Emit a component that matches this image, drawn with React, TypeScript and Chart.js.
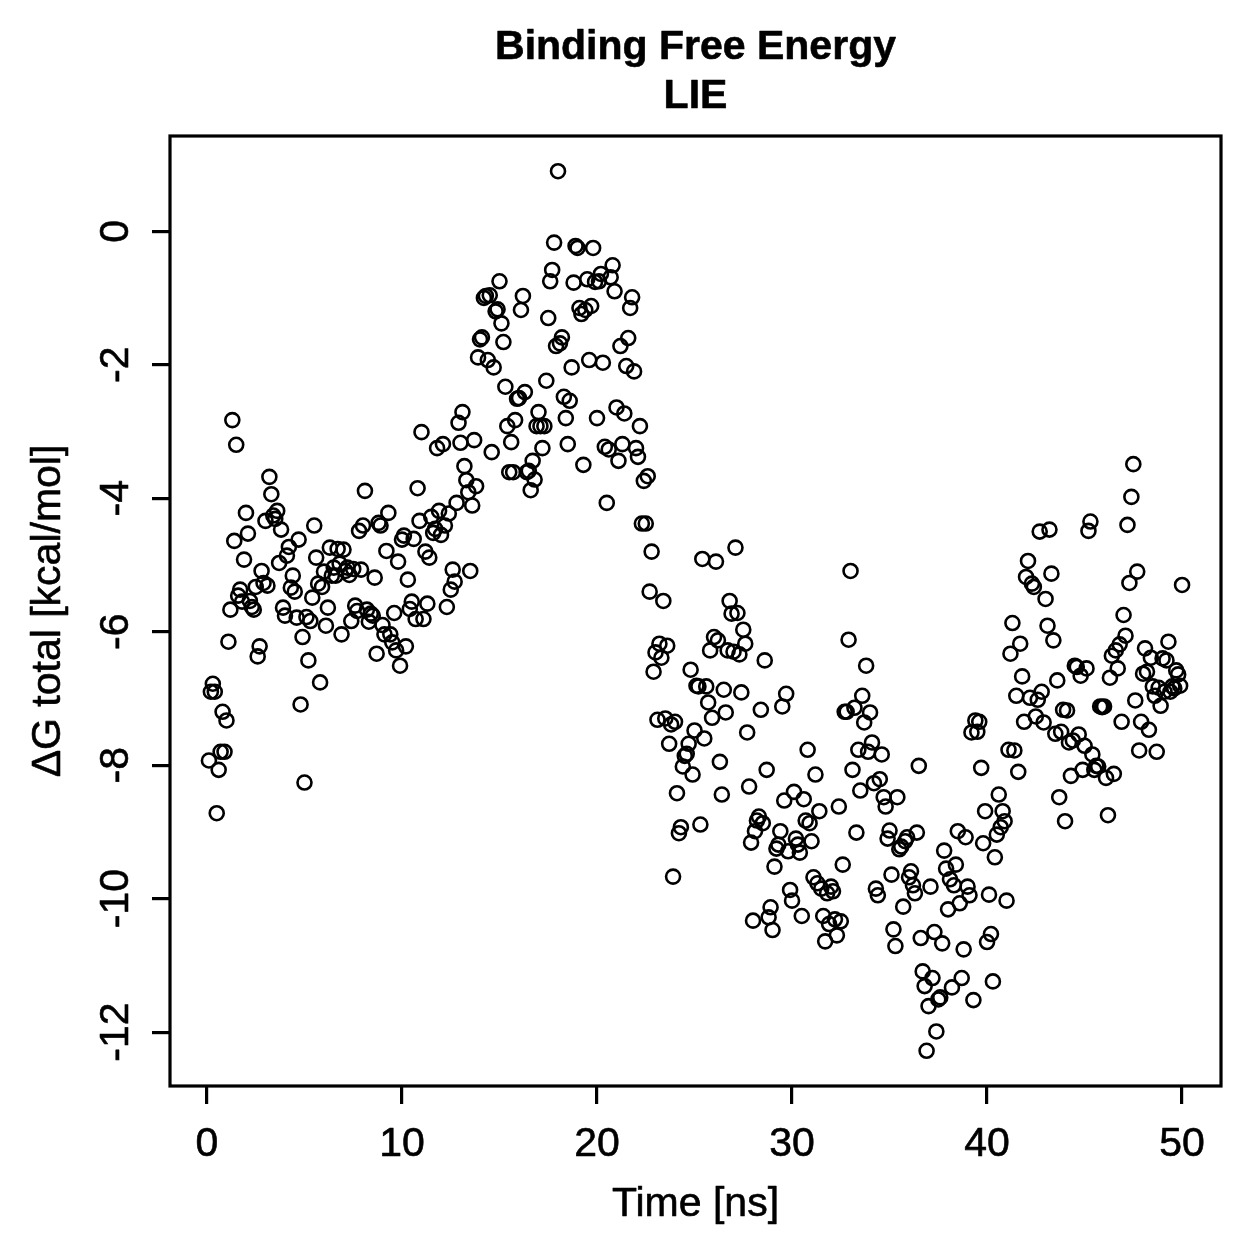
import { useEffect, useRef } from "react";
import { Chart, registerables } from "chart.js";

Chart.register(...registerables);

const CANVAS_SIZE = 1259;
const FONT_FAMILY = '"Liberation Sans", Arial, Helvetica, sans-serif';

// Sampling interval of the trajectory (one frame every 0.1 ns, first frame at 0.1 ns)
const SAMPLE_INTERVAL_NS = 0.1;

// LIE binding free energy per frame, kcal/mol, in blocks of 5 ns
const dg00to05 = [
  -7.93, -6.9, -6.78, -6.9, -8.72, -8.07, -7.8, -7.2, -7.8, -7.33,
  -6.15, -5.67, -2.83, -4.64, -3.2, -5.46, -5.37, -5.55, -4.92, -4.22,
  -4.53, -5.54, -5.63, -5.67, -5.33, -6.37, -6.22, -5.09, -5.27, -4.34,
  -5.31, -3.68, -3.94, -4.26, -4.31, -4.19, -4.97, -4.47, -5.64, -5.76,
  -4.86, -4.73, -5.34, -5.16, -5.4, -5.79, -4.62, -7.09, -6.08, -8.26,
];
const dg05to10 = [
  -5.78, -6.43, -5.84, -5.49, -4.41, -4.89, -5.28, -6.76, -5.33, -5.1,
  -5.91, -5.64, -4.74, -5.16, -5.04, -5.16, -4.76, -4.98, -6.04, -4.77,
  -5.09, -5.04, -5.15, -5.84, -5.06, -5.61, -5.69, -4.49, -5.07, -4.41,
  -3.89, -5.67, -5.85, -5.73, -5.76, -5.19, -6.33, -4.37, -4.41, -5.9,
  -6.04, -4.79, -4.22, -6.04, -6.16, -5.72, -6.28, -4.95, -6.51, -4.62,
];
const dg10to15 = [
  -4.56, -6.22, -5.22, -5.66, -5.55, -4.61, -5.81, -3.85, -4.34, -3.01,
  -5.81, -4.8, -5.58, -4.89, -4.28, -4.52, -4.46, -3.25, -4.19, -4.55,
  -3.19, -4.41, -5.63, -4.23, -5.37, -5.07, -5.25, -4.07, -2.87, -3.17,
  -2.71, -3.52, -3.73, -3.91, -5.09, -4.11, -3.13, -3.82, -1.89, -1.62,
  -1.59, -1.0, -0.97, -1.93, -0.96, -3.31, -2.04, -1.2, -1.17, -0.75,
];
const dg15to20 = [
  -1.38, -1.66, -2.33, -2.92, -3.61, -3.16, -3.61, -2.83, -2.51, -2.5,
  -1.18, -0.97, -2.41, -3.61, -3.59, -3.88, -3.44, -3.72, -2.92, -2.71,
  -2.92, -3.25, -2.92, -2.24, -1.3, -0.75, -0.58, -0.17, -1.72, 0.9,
  -1.68, -1.59, -2.48, -2.8, -3.19, -2.54, -2.04, -0.77, -0.22, -0.25,
  -1.15, -1.24, -3.5, -1.18, -0.72, -1.93, -1.12, -0.25, -0.76, -2.8,
];
const dg20to25 = [
  -0.75, -0.64, -1.97, -3.23, -4.07, -3.27, -0.69, -0.51, -0.9, -2.64,
  -3.44, -1.72, -3.19, -2.73, -2.02, -1.6, -1.15, -0.99, -2.1, -3.25,
  -3.38, -2.92, -4.38, -3.74, -4.38, -3.67, -5.4, -4.8, -6.6, -6.31,
  -7.32, -6.18, -6.39, -5.54, -7.3, -6.21, -7.68, -7.39, -9.67, -7.35,
  -8.42, -9.02, -8.93, -8.02, -7.86, -7.83, -7.68, -6.57, -8.14, -7.48,
];
const dg25to30 = [
  -6.81, -6.82, -8.89, -4.91, -7.6, -6.82, -7.06, -6.28, -7.29, -6.08,
  -4.95, -6.13, -7.95, -8.44, -6.87, -7.21, -6.28, -5.54, -5.73, -6.3,
  -4.74, -5.72, -6.34, -6.91, -5.97, -6.18, -7.51, -8.32, -9.16, -10.33,
  -8.99, -8.83, -8.77, -7.17, -8.87, -6.43, -8.07, -10.28, -10.13, -10.47,
  -9.52, -9.25, -9.19, -8.99, -7.12, -8.53, -6.93, -9.29, -9.87, -10.03,
];
const dg30to35 = [
  -8.4, -9.1, -9.19, -9.31, -10.26, -8.51, -8.83, -7.77, -8.87, -9.14,
  -9.68, -8.14, -9.77, -8.69, -9.85, -10.26, -10.64, -9.92, -10.38, -9.82,
  -9.89, -10.31, -10.55, -8.62, -10.34, -9.49, -7.2, -7.2, -6.12, -5.09,
  -8.07, -7.14, -9.01, -7.77, -8.38, -6.96, -7.36, -6.51, -7.8, -7.21,
  -7.66, -8.27, -9.85, -9.95, -8.21, -7.84, -8.48, -8.62, -9.1, -8.98,
];
const dg35to40 = [
  -9.64, -10.46, -10.71, -8.48, -9.26, -9.22, -10.12, -9.14, -9.08, -9.68,
  -9.59, -9.8, -9.92, -9.01, -8.01, -10.59, -11.09, -11.31, -12.28, -11.61,
  -9.82, -11.19, -10.5, -11.99, -11.51, -11.48, -10.67, -9.28, -9.55, -10.16,
  -9.71, -11.33, -9.8, -9.49, -8.99, -10.07, -11.19, -10.76, -9.08, -9.82,
  -9.95, -7.51, -11.52, -7.33, -7.5, -7.35, -8.04, -9.17, -8.69, -10.65,
];
const dg40to45 = [
  -9.94, -10.53, -11.24, -9.38, -9.04, -8.44, -8.93, -8.69, -8.84, -10.03,
  -7.77, -6.33, -5.87, -7.78, -6.96, -8.1, -6.18, -6.67, -7.35, -5.18,
  -4.94, -6.99, -5.28, -5.33, -7.27, -7.02, -4.5, -6.9, -7.36, -5.51,
  -5.91, -4.47, -5.13, -6.13, -7.53, -6.73, -8.48, -7.5, -7.17, -8.84,
  -7.18, -7.66, -8.16, -7.63, -6.51, -6.53, -7.54, -6.66, -8.07, -7.71,
];
const dg45to50 = [
  -6.55, -4.49, -4.35, -7.84, -8.07, -8.01, -8.02, -7.12, -7.13, -7.12,
  -8.19, -8.75, -6.69, -6.36, -8.13, -6.28, -6.55, -6.19, -7.35, -5.75,
  -6.06, -4.4, -5.27, -3.98, -3.49, -7.03, -5.1, -7.78, -7.35, -6.63,
  -6.25, -6.6, -7.47, -6.39, -6.82, -6.96, -7.8, -6.84, -7.11, -6.4,
  -6.9, -6.43, -6.15, -6.9, -6.82, -6.85, -6.58, -6.64, -6.81, -5.3,
];

const xTickValues = [0, 10, 20, 30, 40, 50];
const yTickValues = [0, -2, -4, -6, -8, -10, -12];

const titleLines = ["Binding Free Energy", "LIE"];
const xAxisTitle = "Time [ns]";
const yAxisTitle = "ΔG total [kcal/mol]";

const energies = [
  ...dg00to05, ...dg05to10, ...dg10to15, ...dg15to20, ...dg20to25,
  ...dg25to30, ...dg30to35, ...dg35to40, ...dg40to45, ...dg45to50,
];
const points = energies.map((dg, i) => ({
  x: Math.round((i + 1) * SAMPLE_INTERVAL_NS * 10) / 10,
  y: dg,
}));

// Axis limits padded by 4% of the data range on each side
function paddedRange(values: number[]): [number, number] {
  const lo = Math.min(...values);
  const hi = Math.max(...values);
  const pad = (hi - lo) * 0.04;
  return [lo - pad, hi + pad];
}

const [xMin, xMax] = paddedRange(points.map((p) => p.x));
const [yMin, yMax] = paddedRange(energies);

const LINE_W = 3.2;
const AXIS_FONT = `41px ${FONT_FAMILY}`;
const TITLE_FONT = `bold 41px ${FONT_FAMILY}`;

// Filled text with a hairline outline so glyphs carry the same weight as the strokes
function heavyText(ctx: CanvasRenderingContext2D, text: string, x: number, y: number) {
  ctx.fillText(text, x, y);
  ctx.strokeText(text, x, y);
}

// Box, tick labels and titles drawn around the plotting region
const framePlugin = {
  id: "frame",
  afterDraw(chart: any) {
    const { ctx, chartArea: a, scales } = chart;
    const xs = scales.x;
    const ys = scales.y;
    ctx.save();
    ctx.strokeStyle = "#000";
    ctx.lineWidth = LINE_W;
    ctx.strokeRect(a.left, a.top, a.right - a.left, a.bottom - a.top);

    ctx.fillStyle = "#000";
    ctx.lineWidth = 0.6;
    ctx.lineJoin = "round";
    ctx.font = AXIS_FONT;
    ctx.textAlign = "center";
    ctx.textBaseline = "middle";
    for (const v of xTickValues) {
      heavyText(ctx, String(v), xs.getPixelForValue(v), a.bottom + 59);
    }
    for (const v of yTickValues) {
      ctx.save();
      ctx.translate(a.left - 53, ys.getPixelForValue(v));
      ctx.rotate(-Math.PI / 2);
      heavyText(ctx, String(v), 0, 0);
      ctx.restore();
    }

    const cx = (a.left + a.right) / 2;
    const cy = (a.top + a.bottom) / 2;
    heavyText(ctx, xAxisTitle, cx, a.bottom + 119);
    ctx.save();
    ctx.translate(a.left - 121, cy);
    ctx.rotate(-Math.PI / 2);
    heavyText(ctx, yAxisTitle, 0, 0);
    ctx.restore();

    ctx.font = TITLE_FONT;
    titleLines.forEach((line, i) => {
      heavyText(ctx, line, cx, 48 + i * 49);
    });
    ctx.restore();
  },
};

export default function App() {
  const canvasRef = useRef<HTMLCanvasElement | null>(null);

  useEffect(() => {
    const canvas = canvasRef.current;
    if (!canvas) return;
    const tickGrid = {
      display: true,
      drawOnChartArea: false,
      drawTicks: true,
      tickLength: 18,
      color: "#000",
      lineWidth: LINE_W,
    };
    const chart = new Chart(canvas, {
      type: "scatter",
      data: {
        datasets: [
          {
            data: points,
            pointStyle: "circle",
            pointRadius: 7,
            pointHoverRadius: 7,
            pointBorderColor: "#000",
            pointBackgroundColor: "rgba(0,0,0,0)",
            pointBorderWidth: 2.6,
            showLine: false,
          },
        ],
      },
      options: {
        responsive: false,
        animation: false,
        events: [],
        layout: { padding: { left: 0, right: 38, top: 136, bottom: 0 } },
        plugins: {
          legend: { display: false },
          title: { display: false },
          tooltip: { enabled: false },
        },
        scales: {
          x: {
            type: "linear",
            position: "bottom",
            min: xMin,
            max: xMax,
            grid: tickGrid,
            border: { display: false },
            ticks: { display: false },
            afterBuildTicks: (s: any) => {
              s.ticks = xTickValues.map((v) => ({ value: v }));
            },
            afterFit: (s: any) => {
              s.height = 173;
            },
          },
          y: {
            type: "linear",
            position: "left",
            min: yMin,
            max: yMax,
            grid: tickGrid,
            border: { display: false },
            ticks: { display: false },
            afterBuildTicks: (s: any) => {
              s.ticks = yTickValues.map((v) => ({ value: v }));
            },
            afterFit: (s: any) => {
              s.width = 170;
            },
          },
        },
      },
      plugins: [framePlugin],
    });
    return () => chart.destroy();
  }, []);

  return (
    <div
      style={{
        position: "fixed",
        left: 0,
        top: 0,
        width: CANVAS_SIZE,
        height: CANVAS_SIZE,
        background: "#fff",
      }}
    >
      <canvas
        ref={canvasRef}
        width={CANVAS_SIZE}
        height={CANVAS_SIZE}
        style={{ display: "block" }}
      />
    </div>
  );
}
